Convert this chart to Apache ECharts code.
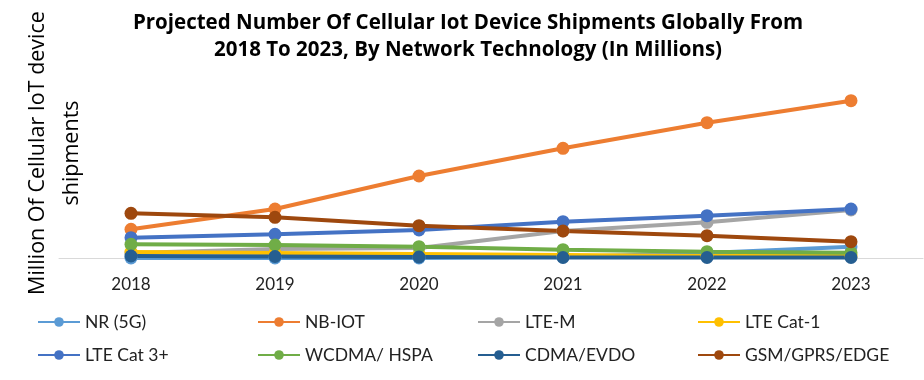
<!DOCTYPE html>
<html>
<head>
<meta charset="utf-8">
<script src="https://cdn.jsdelivr.net/npm/echarts@6/dist/echarts.min.js"></script>
<style>
html,body{margin:0;padding:0;background:#fff;}
#chart{width:924px;height:380px;}
</style>
</head>
<body>
<div id="chart"></div>
<script>
const years = ['2018', '2019', '2020', '2021', '2022', '2023'];
const seriesNames = ['NR (5G)', 'NB-IOT', 'LTE-M', 'LTE Cat-1', 'LTE Cat 3+', 'WCDMA/ HSPA', 'CDMA/EVDO', 'GSM/GPRS/EDGE'];
const nr5g      = [0, 0, 0, 10, 50, 113];
const nbIot     = [287, 490, 820, 1097, 1353, 1573];
const lteM      = [50, 90, 100, 270, 357, 480];
const lteCat1   = [60, 50, 40, 30, 20, 20];
const lteCat3   = [203, 237, 280, 363, 423, 490];
const wcdma     = [137, 130, 113, 83, 63, 53];
const cdma      = [20, 15, 10, 5, 5, 5];
const gsm       = [447, 407, 323, 270, 223, 163];
const colors = ['#5B9BD5', '#ED7D31', '#A5A5A5', '#FFC000', '#4472C4', '#70AD47', '#255E91', '#9E480E'];
const titleText = 'Projected Number Of Cellular Iot Device Shipments Globally From\n2018 To 2023, By Network Technology (In Millions)';
const yTitle = 'Million Of Cellular IoT device\nshipments';

const allData = [nr5g, nbIot, lteM, lteCat1, lteCat3, wcdma, cdma, gsm];

const chart = echarts.init(document.getElementById('chart'), null, {renderer: 'canvas'});

const series = seriesNames.map((name, i) => ({
  name: name,
  type: 'line',
  data: allData[i],
  symbol: 'circle',
  symbolSize: 13,
  lineStyle: {width: 4, color: colors[i]},
  itemStyle: {color: colors[i]},
  emphasis: {disabled: true},
  animation: false
}));

const legends = seriesNames.map((name, i) => ({
  data: [name],
  left: 37 + (i % 4) * 220,
  top: i < 4 ? 313 : 346,
  padding: 0,
  itemWidth: 42,
  itemHeight: 12,
  itemGap: 5,
  textStyle: {fontFamily: 'Lato', fontSize: 17.5, color: '#222'},
  selectedMode: false
}));

chart.setOption({
  backgroundColor: '#ffffff',
  color: colors,
  title: {
    text: titleText,
    left: 463,
    textAlign: 'center',
    top: 5,
    textStyle: {fontFamily: 'Open Sans', fontWeight: 'bold', fontSize: 20.5, lineHeight: 27, color: '#000'}
  },
  legend: legends,
  grid: {left: 59, right: 1, top: 78, bottom: 122, containLabel: false},
  xAxis: {
    type: 'category',
    data: years,
    boundaryGap: true,
    axisLine: {lineStyle: {color: '#D9D9D9', width: 1}},
    axisTick: {show: false},
    axisLabel: {fontFamily: 'Lato', fontSize: 17, color: '#222', margin: 18}
  },
  yAxis: {
    type: 'value',
    min: 0,
    max: 1800,
    axisLine: {show: false},
    axisTick: {show: false},
    axisLabel: {show: false},
    splitLine: {show: false}
  },
  graphic: [{
    type: 'text',
    x: 55,
    y: 153,
    rotation: Math.PI / 2,
    style: {
      text: yTitle,
      fontFamily: 'Open Sans',
      fontSize: 21.5,
      lineHeight: 34,
      fill: '#000',
      align: 'center',
      verticalAlign: 'middle'
    }
  }],
  series: series
});
</script>
</body>
</html>
